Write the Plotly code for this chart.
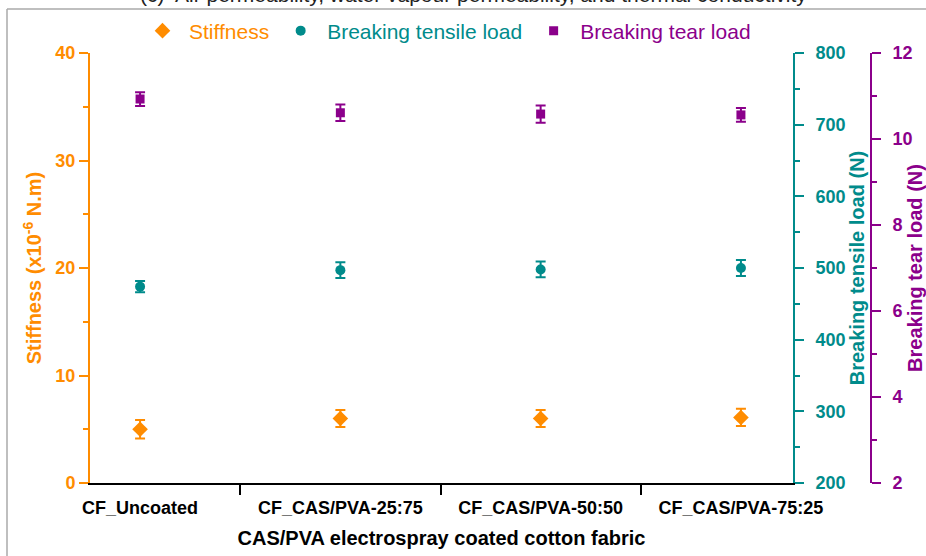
import plotly.graph_objects as go

# Samples and measured properties (mean ± standard deviation)
samples = ["CF_Uncoated", "CF_CAS/PVA-25:75", "CF_CAS/PVA-50:50", "CF_CAS/PVA-75:25"]
stiffness = [5.0, 6.0, 6.0, 6.1]            # x10^-6 N.m
stiffness_err = [0.85, 0.8, 0.8, 0.8]
tensile_load = [474, 497, 498, 500]          # N
tensile_err = [8, 11, 11, 11]
tear_load = [10.93, 10.61, 10.58, 10.56]     # N
tear_err = [0.16, 0.19, 0.2, 0.16]

ORANGE = "#FF8C00"
TEAL = "#008B8B"
PURPLE = "#8B008B"
FONT = "Arial, Liberation Sans, sans-serif"

W, H = 926, 556
ML, MR, MT, MB = 90, 55, 53, 73
PW, PH = W - ML - MR, H - MT - MB


def px_x(p):
    return (p - ML) / PW


def px_y(p):
    return 1 + (MT - p) / PH


def bold(size, color):
    return dict(family=FONT, size=size, color=color, weight="bold")


fig = go.Figure()

fig.add_trace(go.Scatter(
    x=samples, y=stiffness, mode="markers", yaxis="y",
    name=f"<span style='color:{ORANGE}'>Stiffness</span>",
    marker=dict(symbol="diamond", size=12, color=ORANGE),
    error_y=dict(type="data", array=stiffness_err, color=ORANGE, thickness=2, width=5),
))
fig.add_trace(go.Scatter(
    x=samples, y=tensile_load, mode="markers", yaxis="y2",
    name=f"<span style='color:{TEAL}'>Breaking tensile load</span>",
    marker=dict(symbol="circle", size=10, color=TEAL),
    error_y=dict(type="data", array=tensile_err, color=TEAL, thickness=2, width=5),
))
fig.add_trace(go.Scatter(
    x=samples, y=tear_load, mode="markers", yaxis="y3",
    name=f"<span style='color:{PURPLE}'>Breaking tear load</span>",
    marker=dict(symbol="square", size=9, color=PURPLE),
    error_y=dict(type="data", array=tear_err, color=PURPLE, thickness=2, width=5),
))

x_end = (793 - ML) / PW

fig.update_layout(
    width=W, height=H,
    margin=dict(l=ML, r=MR, t=MT, b=MB, pad=0, autoexpand=False),
    paper_bgcolor="white", plot_bgcolor="white",
    font=dict(family=FONT),
    showlegend=True,
    legend=dict(
        orientation="h", x=px_x(136), xanchor="left", y=px_y(31), yanchor="middle",
        font=dict(family=FONT, size=21), itemwidth=43, bgcolor="rgba(0,0,0,0)",
    ),
    xaxis=dict(
        domain=[0, x_end], type="category", range=[-0.25, 3.26], automargin=False,
        showline=True, linecolor="black", linewidth=2, mirror=False,
        ticks="outside", tickson="boundaries", ticklen=10, tickwidth=2, tickcolor="black",
        ticklabelstandoff=7,
        tickfont=bold(18, "black"), showgrid=False, zeroline=False,
        title=dict(text="CAS/PVA electrospray coated cotton fabric",
                   font=bold(20, "black"), standoff=14),
    ),
    yaxis=dict(
        range=[0, 40], dtick=10, tick0=0, automargin=False,
        showline=True, linecolor=ORANGE, linewidth=2,
        ticks="outside", ticklen=9, tickwidth=2, tickcolor=ORANGE,
        minor=dict(dtick=5, ticks="outside", ticklen=5, tickwidth=2, tickcolor=ORANGE),
        tickfont=bold(18, ORANGE), showgrid=False, zeroline=False,
        title=dict(text="Stiffness (x10<sup>-6</sup> N.m)", font=bold(20, ORANGE), standoff=8),
    ),
    yaxis2=dict(
        overlaying="y", side="right", anchor="x", automargin=False,
        range=[200, 800], dtick=100, tick0=200,
        showline=True, linecolor=TEAL, linewidth=2,
        ticks="outside", ticklen=9, tickwidth=2, tickcolor=TEAL,
        ticklabelstandoff=8,
        minor=dict(dtick=50, ticks="outside", ticklen=5, tickwidth=2, tickcolor=TEAL),
        tickfont=bold(18, TEAL), showgrid=False, zeroline=False,
        title=dict(text="Breaking tensile load (N)", font=bold(20, TEAL), standoff=1),
    ),
    yaxis3=dict(
        overlaying="y", side="right", anchor="free", position=1.0, automargin=False,
        range=[2, 12], dtick=2, tick0=2,
        showline=True, linecolor=PURPLE, linewidth=2,
        ticks="outside", ticklen=9, tickwidth=2, tickcolor=PURPLE,
        ticklabelstandoff=8,
        minor=dict(dtick=1, ticks="outside", ticklen=5, tickwidth=2, tickcolor=PURPLE),
        tickfont=bold(18, PURPLE), showgrid=False, zeroline=False,
        title=dict(text="Breaking tear load (N)", font=bold(20, PURPLE), standoff=3),
    ),
)

# Panel caption sitting above the frame
fig.add_annotation(
    text="(c)  Air permeability, water vapour permeability, and thermal conductivity",
    xref="paper", yref="paper", x=px_x(473), y=px_y(8),
    xanchor="center", yanchor="bottom", showarrow=False,
    font=dict(family=FONT, size=21, color="#222222"),
)

# Thin grey frame around the panel
frame = dict(color="#AAAAAA", width=1.5)
fig.add_shape(type="line", xref="paper", yref="paper",
              x0=px_x(7), x1=px_x(930), y0=px_y(9), y1=px_y(9), line=frame)
fig.add_shape(type="line", xref="paper", yref="paper",
              x0=px_x(7), x1=px_x(7), y0=px_y(9), y1=px_y(560), line=frame)

fig.write_html("out.html")
